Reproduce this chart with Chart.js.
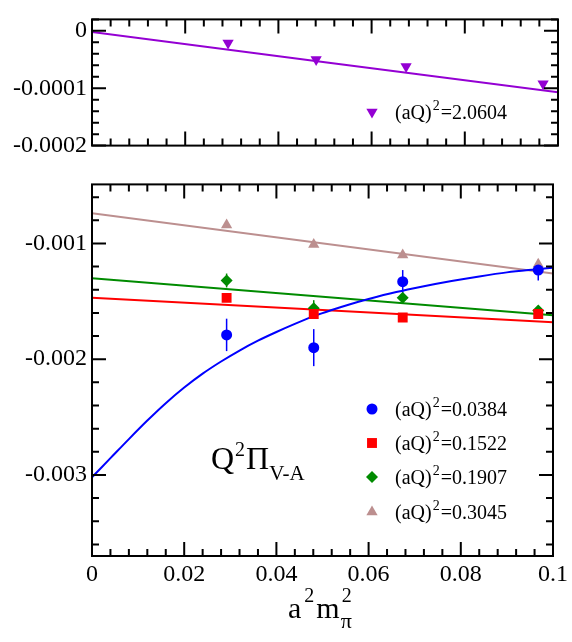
<!DOCTYPE html>
<html>
<head>
<meta charset="utf-8">
<script src="https://cdn.jsdelivr.net/npm/chart.js@4.4.1/dist/chart.umd.min.js"></script>
<style>
  body { margin: 0; background: #fff; width: 572px; height: 642px; position: relative; overflow: hidden; }
  canvas { position: absolute; left: 0; }
  #topChart { top: 0; }
  #botChart { top: 165px; }
</style>
</head>
<body>
<canvas id="topChart" width="572" height="165"></canvas>
<canvas id="botChart" width="572" height="477"></canvas>
<script>
// x positions (a^2 m_pi^2) of the four ensembles
const xVals = [0.0292, 0.0481, 0.0674, 0.0968];

// top panel, (aQ)^2 = 2.0604
const q2_20604 = [-0.000021, -0.000050, -0.000062, -0.000092];
const q2_20604Err = [0.000003, 0.000002, 0.000003, 0.000004];
const fitX = [0, 0.1];
const fit20604 = [-0.000002, -0.000107];

// bottom panel
const q2_0384 = [-0.00179, -0.00190, -0.00133, -0.00123];
const q2_0384Err = [0.00014, 0.00016, 0.00010, 0.00009];
const q2_1522 = [-0.00147, -0.00161, -0.00164, -0.00161];
const q2_1522Err = [0.00003, 0.00003, 0.00002, 0.00003];
const q2_1907 = [-0.00132, -0.00156, -0.00147, -0.00158];
const q2_1907Err = [0.00006, 0.00007, 0.00004, 0.00004];
const q2_3045 = [-0.00084, -0.00101, -0.00110, -0.00118];
const q2_3045Err = [0.00002, 0.00002, 0.00002, 0.00003];

// fits
const fit1522 = [-0.00147, -0.00168];
const fit1907 = [-0.00130, -0.00162];
const fit3045 = [-0.00074, -0.00126];
// chiral fit for (aQ)^2 = 0.0384
const curveX = [0, 0.004, 0.008, 0.012, 0.016, 0.020, 0.024, 0.028, 0.032, 0.036, 0.040, 0.044,
                0.048, 0.052, 0.056, 0.060, 0.066, 0.072, 0.078, 0.084, 0.090, 0.096, 0.100];
const curveY = [-0.00302, -0.002855, -0.00269, -0.00253, -0.00238, -0.002245, -0.002125, -0.00202,
                -0.001925, -0.00184, -0.001765, -0.001695, -0.00163, -0.001575, -0.001525, -0.00148,
                -0.00142, -0.00137, -0.001325, -0.001285, -0.00125, -0.001225, -0.00121];

// ticks
const xTicks = [0, 0.02, 0.04, 0.06, 0.08, 0.1];
const xTickLabels = ['0', '0.02', '0.04', '0.06', '0.08', '0.1'];
const yTicksTop = [0, -0.0001, -0.0002];
const yTickLabelsTop = ['0', '-0.0001', '-0.0002'];
const yTicksBot = [-0.001, -0.002, -0.003];
const yTickLabelsBot = ['-0.001', '-0.002', '-0.003'];

// legend text
const legendTop = ['2.0604'];
const legendBot = ['0.0384', '0.1522', '0.1907', '0.3045'];

const BLUE = '#0000ff', RED = '#ff0000', GREEN = '#008b00', BROWN = '#bc8f8f', VIOLET = '#9400d3';
const FONT = "'Liberation Serif', 'Times New Roman', serif";

function pts(xs, ys) {
    return xs.map((x, i) => ({ x: x, y: ys[i] }));
}

function markerSet(ys, errs, color, style, radius, rotation) {
    return {
        data: pts(xVals, ys), errs: errs,
        backgroundColor: color, borderColor: color, borderWidth: 0,
        pointStyle: style, pointRadius: radius, pointRotation: rotation || 0,
        showLine: false
    };
}

function lineSet(xs, ys, color) {
    return {
        data: pts(xs, ys), borderColor: color, borderWidth: 2,
        pointRadius: 0, showLine: true, cubicInterpolationMode: 'monotone'
    };
}

// draws text pieces: [text, size, dy, gap]
function richText(ctx, parts, x, y) {
    ctx.textAlign = 'left';
    ctx.textBaseline = 'alphabetic';
    ctx.fillStyle = '#000';
    parts.forEach(p => {
        ctx.font = p[1] + 'px ' + FONT;
        ctx.fillText(p[0], x, y + p[2]);
        x += ctx.measureText(p[0]).width + (p[3] || 0);
    });
}

function drawMarker(ctx, ds, x, y) {
    ctx.save();
    ctx.fillStyle = ds.backgroundColor;
    ctx.strokeStyle = ds.borderColor;
    Chart.helpers.drawPoint(ctx, {
        pointStyle: ds.pointStyle, radius: ds.pointRadius,
        rotation: ds.pointRotation, borderWidth: 0
    }, x, y);
    ctx.restore();
}

const deco = {
    id: 'deco',
    beforeDatasetsDraw(chart) {
        // error bars under the markers
        const ctx = chart.ctx, xs = chart.scales.x, ys = chart.scales.y;
        ctx.save();
        ctx.lineWidth = 1.5;
        chart.data.datasets.forEach(ds => {
            if (!ds.errs) return;
            ctx.strokeStyle = ds.borderColor;
            ds.data.forEach((p, i) => {
                const px = xs.getPixelForValue(p.x);
                ctx.beginPath();
                ctx.moveTo(px, ys.getPixelForValue(p.y - ds.errs[i]));
                ctx.lineTo(px, ys.getPixelForValue(p.y + ds.errs[i]));
                ctx.stroke();
            });
        });
        ctx.restore();
    },
    afterDraw(chart, args, opts) {
        const ctx = chart.ctx, a = chart.chartArea;
        const xs = chart.scales.x, ys = chart.scales.y;
        ctx.save();
        ctx.strokeStyle = '#000';
        ctx.lineWidth = 2;
        ctx.strokeRect(a.left, a.top, a.right - a.left, a.bottom - a.top);
        // x ticks, inside, top and bottom
        ctx.beginPath();
        for (let v = 0; v <= 0.1 + 1e-9; v += 0.004) {
            const px = xs.getPixelForValue(v);
            const major = xTicks.some(t => Math.abs(t - v) < 1e-9);
            const len = major ? 14 : 7;
            ctx.moveTo(px, a.bottom); ctx.lineTo(px, a.bottom - len);
            ctx.moveTo(px, a.top); ctx.lineTo(px, a.top + len);
        }
        // y ticks, inside, left and right
        for (let v = opts.yMinorStart; v <= opts.yMinorEnd + 1e-12; v += opts.yMinorStep) {
            const py = ys.getPixelForValue(v);
            const major = opts.yMajor.some(t => Math.abs(t - v) < opts.yMinorStep / 10);
            const len = major ? 14 : 7;
            ctx.moveTo(a.left, py); ctx.lineTo(a.left + len, py);
            ctx.moveTo(a.right, py); ctx.lineTo(a.right - len, py);
        }
        ctx.stroke();
        ctx.restore();

        // legend
        const sets = chart.data.datasets.filter(d => d.errs);
        opts.legend.forEach((txt, i) => {
            const y = opts.legendY[i];
            drawMarker(ctx, sets[i], 372, y);
            richText(ctx, [['(aQ)', 20, 0, 1], ['2', 14, -9, 1], ['=' + txt, 20, 0]], 395, y + 7);
        });
        if (opts.extra) opts.extra(ctx);
    }
};

new Chart(document.getElementById('topChart'), {
    type: 'scatter',
    data: {
        datasets: [
            markerSet(q2_20604, q2_20604Err, VIOLET, 'triangle', 6.5, 180),
            lineSet(fitX, fit20604, VIOLET)
        ]
    },
    options: {
        responsive: false, animation: false,
        layout: { padding: { top: 4, right: 14, left: 0, bottom: 0 } },
        plugins: {
            legend: { display: false }, tooltip: { enabled: false },
            deco: {
                yMajor: yTicksTop, yMinorStart: -0.0002, yMinorEnd: 0.00002, yMinorStep: 0.00002,
                legend: legendTop, legendY: [112]
            }
        },
        scales: {
            x: {
                type: 'linear', min: 0, max: 0.1,
                grid: { display: false, drawTicks: false }, border: { display: false },
                ticks: { display: false },
                afterBuildTicks: s => { s.ticks = xTicks.map(v => ({ value: v })); },
                afterFit: s => { s.height = 16; }
            },
            y: {
                min: -0.0002, max: 0.00002,
                grid: { display: false, drawTicks: false }, border: { display: false },
                ticks: { color: '#000', padding: 5, font: { family: FONT, size: 24 },
                    callback: (v, i) => yTickLabelsTop[i] },
                afterBuildTicks: s => { s.ticks = yTicksTop.map(v => ({ value: v })); },
                afterFit: s => { s.width = 92; }
            }
        }
    },
    plugins: [deco]
});

new Chart(document.getElementById('botChart'), {
    type: 'scatter',
    data: {
        datasets: [
            markerSet(q2_0384, q2_0384Err, BLUE, 'circle', 5.5),
            markerSet(q2_1522, q2_1522Err, RED, 'rect', 7),
            markerSet(q2_1907, q2_1907Err, GREEN, 'rectRot', 6),
            markerSet(q2_3045, q2_3045Err, BROWN, 'triangle', 6.5),
            lineSet(curveX, curveY, BLUE),
            lineSet(fitX, fit1522, RED),
            lineSet(fitX, fit1907, GREEN),
            lineSet(fitX, fit3045, BROWN)
        ]
    },
    options: {
        responsive: false, animation: false,
        layout: { padding: { top: 12, right: 14, left: 0, bottom: 0 } },
        plugins: {
            legend: { display: false }, tooltip: { enabled: false },
            deco: {
                yMajor: yTicksBot, yMinorStart: -0.0036, yMinorEnd: -0.0006, yMinorStep: 0.0002,
                legend: legendBot, legendY: [244, 278, 312, 347],
                extra: ctx => {
                    // panel label and x axis title
                    richText(ctx, [['Q', 32, 0, 1], ['2', 20, -13, 1], ['\u03A0', 32, 0, 0], ['V-A', 21, 11]], 211, 304);
                    richText(ctx, [['a', 30, 0, 3], ['2', 20, -16, 2], ['m', 30, 0, 1], ['\u03C0', 22, 10, -10], ['2', 20, -16]], 288, 453);
                }
            }
        },
        scales: {
            x: {
                type: 'linear', min: 0, max: 0.1,
                grid: { display: false, drawTicks: false }, border: { display: false },
                ticks: { color: '#000', padding: 4, maxRotation: 0, font: { family: FONT, size: 24 },
                    callback: (v, i) => xTickLabels[i] },
                afterBuildTicks: s => { s.ticks = xTicks.map(v => ({ value: v })); },
                afterFit: s => { s.height = 86; }
            },
            y: {
                min: -0.0037, max: -0.00049,
                grid: { display: false, drawTicks: false }, border: { display: false },
                ticks: { color: '#000', padding: 5, font: { family: FONT, size: 24 },
                    callback: (v, i) => yTickLabelsBot[i] },
                afterBuildTicks: s => { s.ticks = yTicksBot.map(v => ({ value: v })); },
                afterFit: s => { s.width = 92; }
            }
        }
    },
    plugins: [deco]
});
</script>
</body>
</html>
